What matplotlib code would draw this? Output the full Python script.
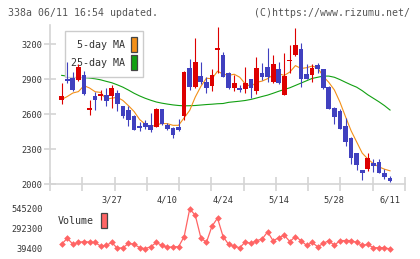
import matplotlib
matplotlib.use("Agg")
import matplotlib.pyplot as plt
from matplotlib.patches import Rectangle
import numpy as np

plt.rcParams['font.family'] = 'DejaVu Sans Mono'

W, H = 420, 259

# daily candles, oldest first
opens = [2717, 2901, 2910, 2893, 2935, 2631, 2756, 2751, 2765, 2756,
         2779, 2670, 2636, 2585, 2500, 2520, 2505, 2492, 2640, 2503,
         2482, 2485, 2585, 2991, 2830, 2926, 2874, 2843, 3150, 3108,
         2954, 2823, 2823, 2814, 2897, 2800, 2954, 3005, 2874, 2986,
         2766, 3057, 3108, 3157, 2943, 2934, 3020, 2986, 2834, 2651,
         2628, 2497, 2391, 2268, 2120, 2131, 2177, 2191, 2097, 2051]
highs = [2870, 3046, 2964, 3030, 2972, 2720, 2785, 2802, 2820, 2848,
         2802, 2672, 2670, 2590, 2535, 2548, 2606, 2648, 2643, 2520,
         2486, 2560, 2965, 3068, 3250, 3050, 2920, 2983, 3350, 3131,
         2960, 2931, 2846, 3006, 2900, 3091, 3034, 3166, 3108, 3048,
         3120, 3194, 3340, 3211, 3028, 3028, 3034, 2990, 2840, 2660,
         2646, 2566, 2400, 2268, 2120, 2263, 2217, 2217, 2126, 2069]
lows = [2690, 2864, 2800, 2880, 2765, 2594, 2637, 2722, 2665, 2650,
        2630, 2565, 2493, 2460, 2457, 2472, 2450, 2490, 2510, 2460,
        2395, 2455, 2545, 2806, 2826, 2860, 2783, 2800, 2954, 2915,
        2815, 2800, 2791, 2783, 2740, 2771, 2891, 2877, 2863, 2860,
        2760, 2948, 3100, 2834, 2900, 2877, 2954, 2815, 2645, 2514,
        2470, 2326, 2171, 2120, 2034, 2114, 2103, 2091, 2046, 2017]
closes = [2756, 2879, 2802, 3005, 2773, 2654, 2722, 2773, 2708, 2825,
          2688, 2585, 2548, 2466, 2478, 2490, 2466, 2640, 2515, 2475,
          2420, 2465, 2960, 2834, 3046, 2874, 2820, 2934, 3160, 2920,
          2823, 2868, 2806, 2868, 2820, 2994, 2920, 2914, 3028, 2868,
          2926, 3063, 3191, 2903, 2903, 2997, 2988, 2823, 2646, 2577,
          2474, 2363, 2226, 2163, 2097, 2226, 2157, 2091, 2063, 2029]
ma5 = [2725, 2750, 2780, 2792, 2843, 2823, 2791, 2785, 2726, 2736,
       2743, 2716, 2671, 2622, 2553, 2513, 2490, 2508, 2518, 2517,
       2503, 2503, 2567, 2631, 2745, 2836, 2907, 2902, 2967, 2942,
       2931, 2941, 2915, 2857, 2837, 2871, 2882, 2903, 2935, 2945,
       2931, 2960, 3015, 2990, 2997, 3011, 2996, 2923, 2871, 2806,
       2702, 2577, 2457, 2361, 2265, 2215, 2174, 2147, 2127, 2113]
ma25 = [2931, 2925, 2920, 2915, 2912, 2908, 2902, 2893, 2880, 2868,
        2850, 2830, 2805, 2778, 2755, 2735, 2718, 2703, 2693, 2685,
        2678, 2673, 2670, 2671, 2673, 2677, 2681, 2684, 2688, 2690,
        2700, 2705, 2710, 2716, 2725, 2737, 2750, 2762, 2778, 2795,
        2810, 2825, 2845, 2865, 2885, 2905, 2915, 2925, 2925, 2915,
        2895, 2872, 2850, 2830, 2800, 2765, 2735, 2705, 2672, 2634]
volume = [101000, 175000, 101000, 122000, 134000, 126000, 122000, 76000, 85000, 122000,
          48000, 56000, 109000, 101000, 56000, 44000, 68000, 122000, 85000, 60000,
          68000, 68000, 196000, 545200, 467000, 183000, 122000, 327000, 430000, 196000,
          97000, 72000, 56000, 130000, 109000, 146000, 163000, 257000, 142000, 183000,
          212000, 134000, 196000, 146000, 85000, 122000, 68000, 109000, 146000, 85000,
          146000, 146000, 146000, 122000, 85000, 97000, 56000, 56000, 56000, 39400]

date_idx = [9, 19, 29, 39, 49, 59]
date_labels = ['3/27', '4/10', '4/24', '5/14', '5/28', '6/11']
price_ticks = [2000, 2300, 2600, 2900, 3200]
vol_ticks = [39400, 292300, 545200]

UP = '#dd0000'
DOWN = '#4040bf'
MA5_C = '#f39018'
MA25_C = '#12a012'
VOL_C = '#ff6464'
GRID = '#d4d4d4'
TXT = '#333333'


def fx(x):
    return x / W


def fy(y):
    return 1 - y / H


fig = plt.figure(figsize=(W / 100, H / 100), dpi=100)

# price panel
ax = fig.add_axes([fx(50), fy(184), 355 / W, 159 / H])
x0 = -11.7 / 5.565
x1 = x0 + 355 / 5.565
ax.set_xlim(x0, x1)
ax.set_ylim(2000, 3363)

x = np.arange(len(closes))
o = np.array(opens)
c = np.array(closes)
colors = np.where(c >= o, UP, DOWN)
ax.plot(x, ma25, color=MA25_C, lw=0.8, zorder=2)
ax.plot(x, ma5, color=MA5_C, lw=0.8, zorder=2)
ax.vlines(x, lows, highs, colors=colors, lw=0.8, zorder=4)
body_h = np.maximum(np.abs(c - o), 14)
body_lo = (o + c) / 2 - body_h / 2
ax.bar(x, body_h, bottom=body_lo, width=0.85, color=colors, lw=0, zorder=5)

for s in ['top', 'right']:
    ax.spines[s].set_visible(False)
for s in ['left', 'bottom']:
    ax.spines[s].set_color(GRID)
    ax.spines[s].set_linewidth(1.2)
ax.set_yticks(price_ticks)
ax.tick_params(axis='y', direction='inout', length=9, width=1.2, color=GRID,
               labelsize=6.2, labelcolor=TXT, pad=1)
ax.set_xticks(date_idx, date_labels)
ax.tick_params(axis='x', which='major', length=0, labelsize=6.2, labelcolor=TXT, pad=8)
ax.set_xticks(np.linspace(x0, x1, 12), minor=True)
ax.tick_params(axis='x', which='minor', direction='inout', length=10, width=1.2, color=GRID)

# legend box: over the MA lines, under the candles
ft = fig.transFigure
ax.add_patch(Rectangle((fx(65), fy(77)), 78 / W, 46 / H, facecolor='white',
                       edgecolor='#cccccc', lw=1, zorder=3, transform=ft, clip_on=False))
ax.text(fx(125), fy(45), '5-day MA', ha='right', va='center', fontsize=7.2,
        color=TXT, zorder=3.5, transform=ft)
ax.text(fx(125), fy(63), '25-day MA', ha='right', va='center', fontsize=7.2,
        color=TXT, zorder=3.5, transform=ft)
ax.add_patch(Rectangle((fx(131), fy(52)), 6 / W, 15 / H, facecolor=MA5_C,
                       edgecolor='#444444', lw=0.9, zorder=3.5, transform=ft, clip_on=False))
ax.add_patch(Rectangle((fx(131), fy(70)), 6 / W, 15 / H, facecolor=MA25_C,
                       edgecolor='#444444', lw=0.9, zorder=3.5, transform=ft, clip_on=False))

# volume panel
av = fig.add_axes([fx(50), fy(253), 355 / W, 48 / H])
av.set_xlim(x0, x1)
av.set_ylim(39400 - 4 * 12645, 545200 + 4 * 12645)
av.plot(x, volume, color=VOL_C, lw=0.9, marker='D', markersize=3.4,
        markeredgewidth=0)
for s in av.spines.values():
    s.set_visible(False)
av.set_xticks([])
av.set_yticks(vol_ticks, [str(v) for v in vol_ticks])
av.tick_params(axis='y', length=0, labelsize=6.2, labelcolor=TXT, pad=5)
av.patch.set_visible(False)
fig.text(fx(58), fy(221.5), 'Volume', ha='left', va='center', fontsize=7.2, color=TXT)
fig.add_artist(Rectangle((fx(101), fy(228)), 6 / W, 15 / H, facecolor=VOL_C,
                         edgecolor='#444444', lw=0.9, transform=ft))

# header
fig.text(fx(8), fy(12.5), '338a 06/11 16:54 updated.', ha='left', va='center',
         fontsize=7.1, color='#555555')
fig.text(fx(410), fy(12.5), '(C)https://www.rizumu.net/', ha='right', va='center',
         fontsize=7.1, color='#555555')

fig.savefig('out.png', dpi=100)
